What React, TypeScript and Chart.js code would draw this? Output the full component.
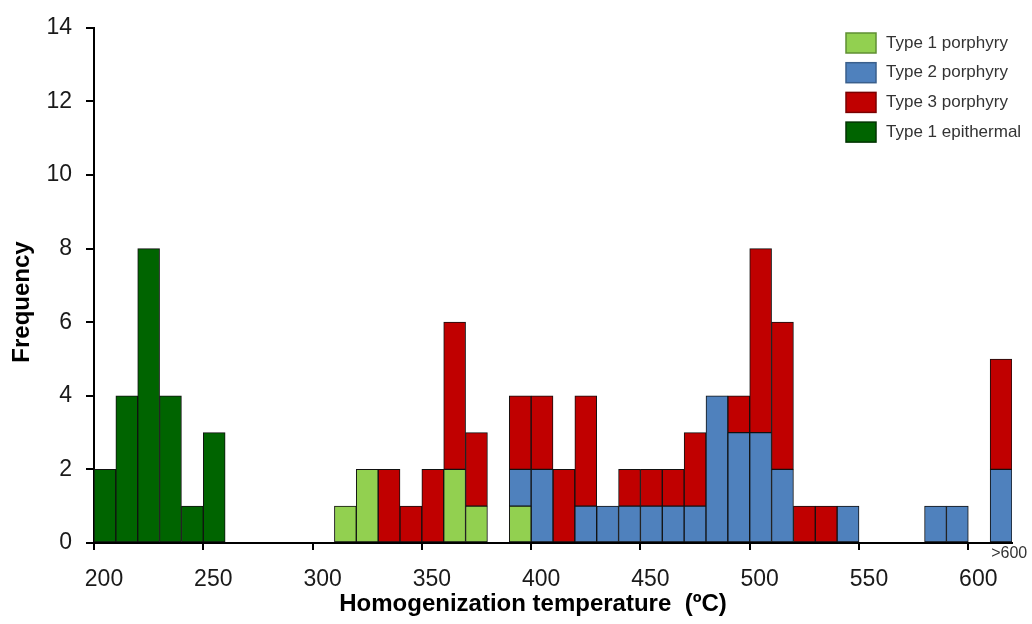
import React, { useEffect, useRef } from "react";
import { Chart, registerables } from "chart.js";

Chart.register(...registerables);

// ---- Data (bins are 10 °C wide, labelled by their lower edge) ----
const binStarts = [
  200, 210, 220, 230, 240, 250, 260, 270, 280, 290,
  300, 310, 320, 330, 340, 350, 360, 370, 380, 390,
  400, 410, 420, 430, 440, 450, 460, 470, 480, 490,
  500, 510, 520, 530, 540, 550, 560, 570, 580, 590,
  600, 610,
];
const binWidth = 10;

const type1Porphyry = [
  0, 0, 0, 0, 0, 0, 0, 0, 0, 0,
  0, 1, 2, 0, 0, 0, 2, 1, 0, 1,
  0, 0, 0, 0, 0, 0, 0, 0, 0, 0,
  0, 0, 0, 0, 0, 0, 0, 0, 0, 0,
  0, 0,
];
const type2Porphyry = [
  0, 0, 0, 0, 0, 0, 0, 0, 0, 0,
  0, 0, 0, 0, 0, 0, 0, 0, 0, 1,
  2, 0, 1, 1, 1, 1, 1, 1, 4, 3,
  3, 2, 0, 0, 1, 0, 0, 0, 1, 1,
  0, 2,
];
const type3Porphyry = [
  0, 0, 0, 0, 0, 0, 0, 0, 0, 0,
  0, 0, 0, 2, 1, 2, 4, 2, 0, 2,
  2, 2, 3, 0, 1, 1, 1, 2, 0, 1,
  5, 4, 1, 1, 0, 0, 0, 0, 0, 0,
  0, 3,
];
const type1Epithermal = [
  2, 4, 8, 4, 1, 3, 0, 0, 0, 0,
  0, 0, 0, 0, 0, 0, 0, 0, 0, 0,
  0, 0, 0, 0, 0, 0, 0, 0, 0, 0,
  0, 0, 0, 0, 0, 0, 0, 0, 0, 0,
  0, 0,
];

const seriesNames = ["Type 1 porphyry", "Type 2 porphyry", "Type 3 porphyry", "Type 1 epithermal"];
const xTickLabels = [200, 250, 300, 350, 400, 450, 500, 550, 600];
const yMin = 0;
const yMax = 14;
const yStep = 2;
const xMin = 200;
const xMax = 620;
const xAxisTitle = "Homogenization temperature  (ºC)";
const yAxisTitle = "Frequency";
const overflowLabel = ">600";
const overflowBin = 610;

// ---- Styles ----
const FONT = '"Liberation Sans", Arial, Helvetica, sans-serif';
const fillColors = ["#92D050", "#4F81BD", "#C00000", "#006400"];
const legendBorders = ["#5f8f33", "#3a5f8c", "#7a0000", "#003300"];

function toPoints(values: number[]) {
  return binStarts.map((b, i) => ({ x: b + binWidth / 2, y: values[i] === 0 ? null : values[i] }));
}

const overlayPlugin = {
  id: "overlay",
  afterDraw(chart: any) {
    const ctx = chart.ctx;
    ctx.save();
    // x axis title
    ctx.fillStyle = "#000";
    ctx.font = `bold 24px ${FONT}`;
    ctx.textAlign = "center";
    ctx.textBaseline = "middle";
    ctx.fillText(xAxisTitle, 533, 604);
    // y axis title
    ctx.save();
    ctx.translate(22, 302);
    ctx.rotate(-Math.PI / 2);
    ctx.fillText(yAxisTitle, 0, 0);
    ctx.restore();
    // overflow label
    const xs = chart.scales.x;
    ctx.font = `16px ${FONT}`;
    ctx.fillStyle = "#333";
    ctx.textAlign = "left";
    ctx.textBaseline = "middle";
    ctx.fillText(overflowLabel, xs.getPixelForValue(overflowBin) + 1, 554);
    // legend
    ctx.font = `17px ${FONT}`;
    seriesNames.forEach((name, i) => {
      const bx = 846;
      const by = 33 + i * 29.7;
      ctx.fillStyle = fillColors[i];
      ctx.fillRect(bx, by, 30, 20);
      ctx.lineWidth = 1.5;
      ctx.strokeStyle = legendBorders[i];
      ctx.strokeRect(bx, by, 30, 20);
      ctx.fillStyle = "#333";
      ctx.fillText(name, 886, by + 10);
    });
    ctx.restore();
  },
};

export default function App() {
  const ref = useRef<HTMLCanvasElement | null>(null);

  useEffect(() => {
    if (!ref.current) return;
    const seriesValues = [type1Porphyry, type2Porphyry, type3Porphyry, type1Epithermal];
    const chart = new Chart(ref.current, {
      type: "bar",
      data: {
        datasets: seriesValues.map((vals, i) => ({
          label: seriesNames[i],
          data: toPoints(vals) as any,
          backgroundColor: fillColors[i],
          borderColor: "#111",
          borderWidth: 1,
          borderSkipped: false,
          barPercentage: 1,
          categoryPercentage: 1,
        })),
      },
      options: {
        responsive: false,
        animation: false,
        layout: { padding: { left: 0, right: 20, top: 27, bottom: 0 } },
        plugins: {
          legend: { display: false },
          tooltip: { enabled: false },
          title: { display: false },
        },
        scales: {
          x: {
            type: "linear",
            min: xMin,
            max: xMax,
            offset: false,
            stacked: true,
            afterBuildTicks: (s: any) => {
              s.ticks = xTickLabels.map((v) => ({ value: v }));
            },
            afterFit: (s: any) => {
              s.height = 81;
            },
            grid: {
              display: true,
              drawOnChartArea: false,
              drawTicks: true,
              tickLength: 7,
              color: "#000",
              lineWidth: 2,
              offset: false,
            },
            border: { display: true, color: "#000", width: 2 },
            ticks: {
              font: { size: 23, family: FONT },
              color: "#1a1a1a",
              labelOffset: 10,
              padding: 16,
              maxRotation: 0,
              autoSkip: false,
            },
          },
          y: {
            min: yMin,
            max: yMax,
            stacked: true,
            afterFit: (s: any) => {
              s.width = 94;
            },
            grid: {
              display: true,
              drawOnChartArea: false,
              drawTicks: true,
              tickLength: 8,
              color: "#000",
              lineWidth: 2,
            },
            border: { display: true, color: "#000", width: 2 },
            ticks: {
              stepSize: yStep,
              font: { size: 23, family: FONT },
              color: "#1a1a1a",
              padding: 14,
            },
          },
        },
      },
      plugins: [overlayPlugin],
    });
    return () => chart.destroy();
  }, []);

  return (
    <div style={{ position: "fixed", left: 0, top: 0, width: 1032, height: 624, background: "#fff" }}>
      <canvas ref={ref} width={1032} height={624} style={{ display: "block" }} />
    </div>
  );
}
